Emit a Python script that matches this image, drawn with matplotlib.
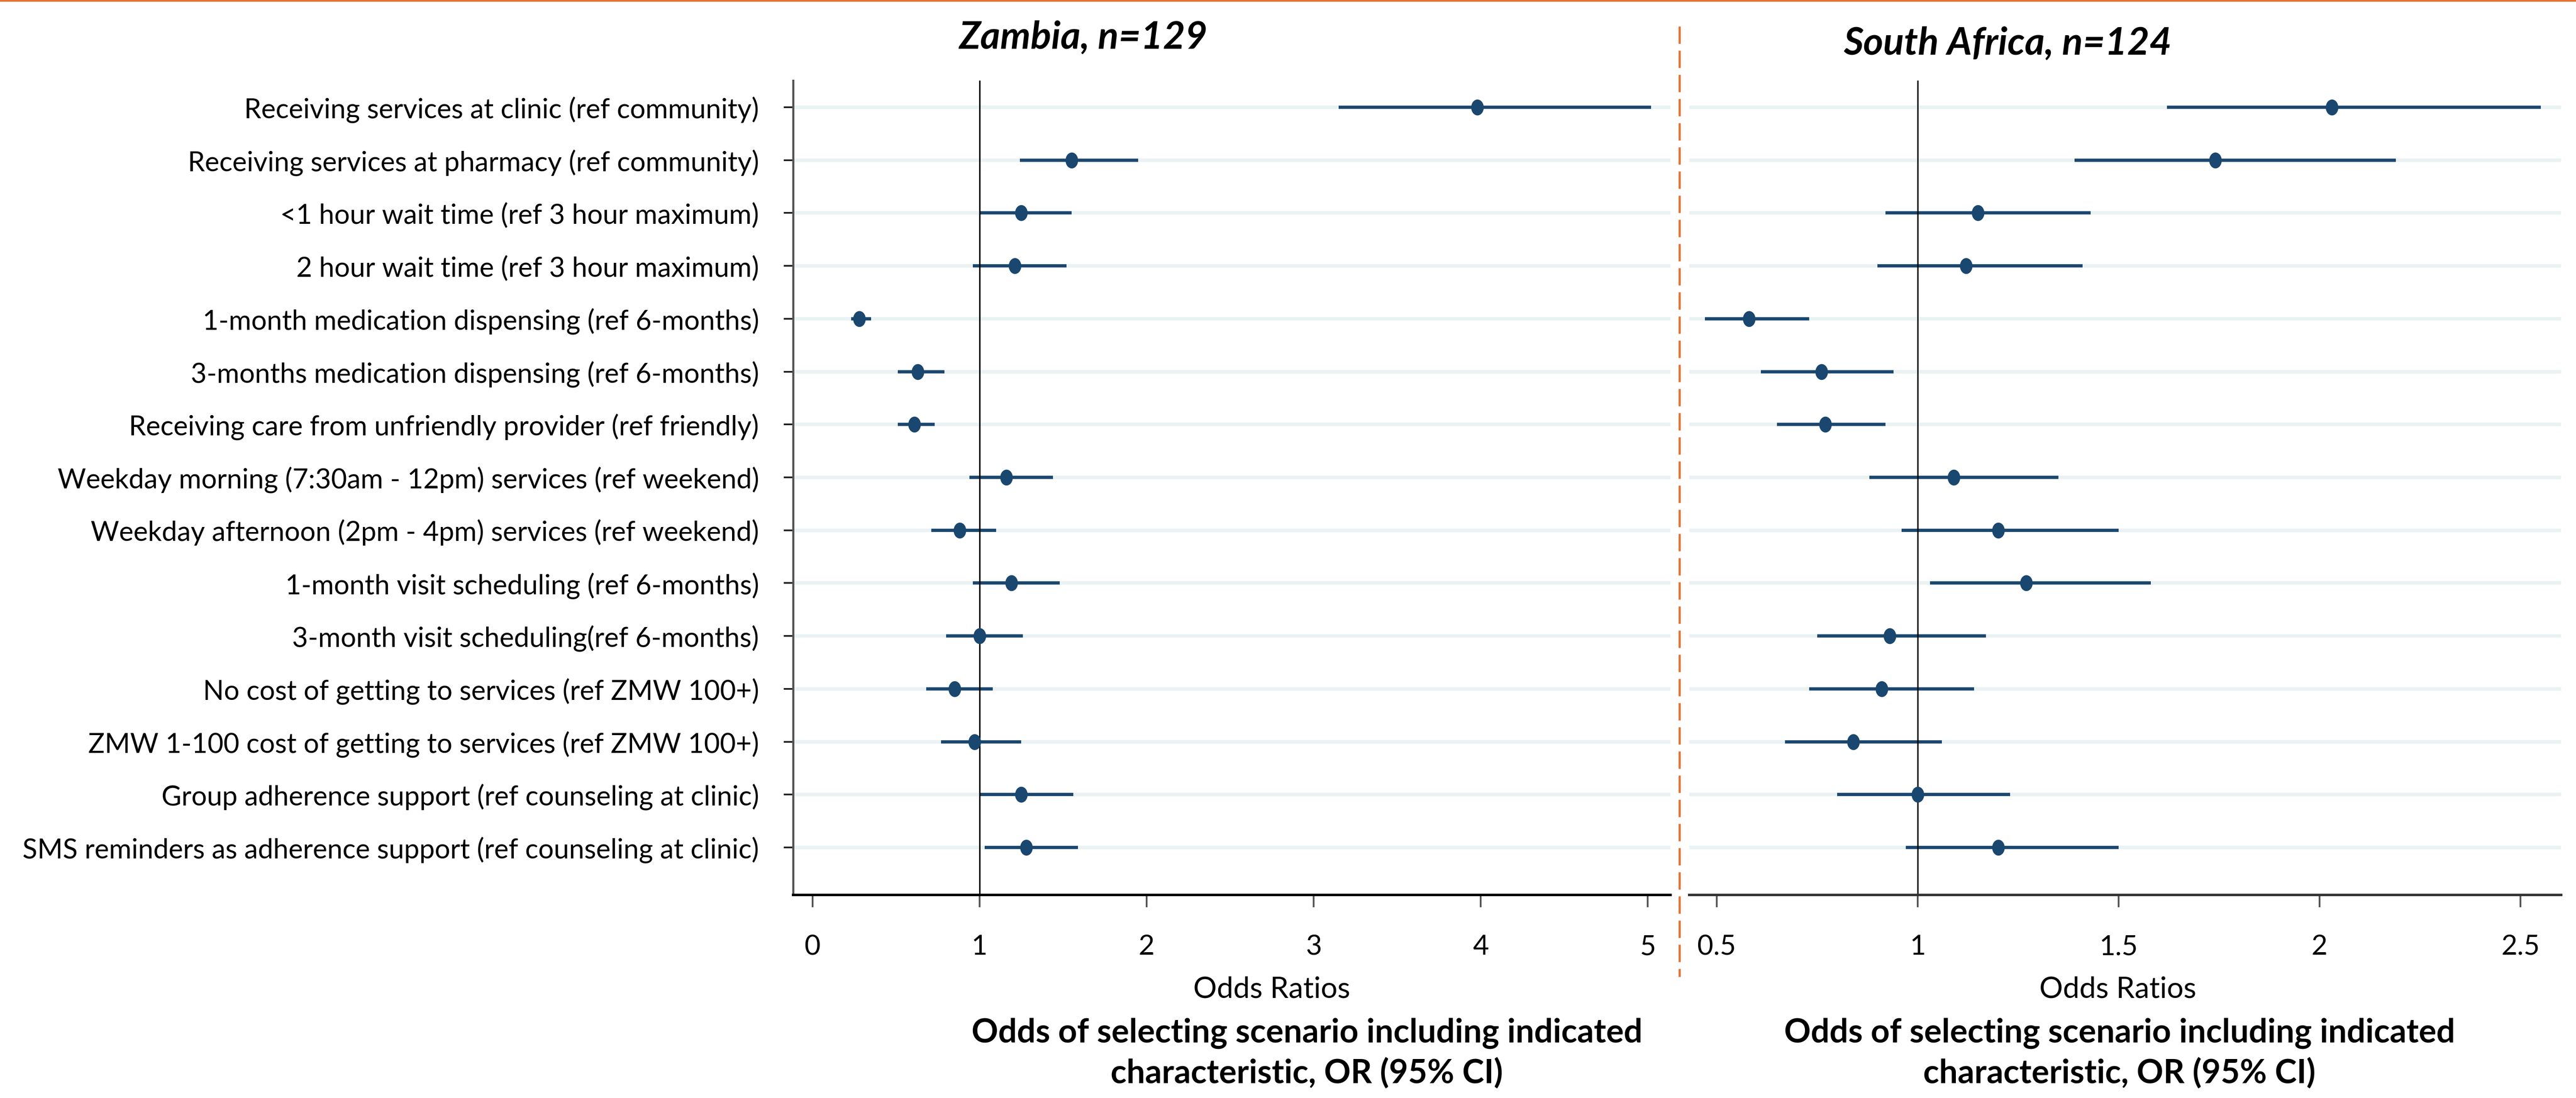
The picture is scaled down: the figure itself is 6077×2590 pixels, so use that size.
import matplotlib
matplotlib.use('Agg')
import matplotlib.pyplot as plt
import numpy as np
from matplotlib.path import Path
from matplotlib.transforms import Affine2D
from matplotlib.lines import Line2D

plt.rcParams['font.family'] = ['Lato', 'DejaVu Sans']

labels = [
    'Receiving services at clinic (ref community)',
    'Receiving services at pharmacy (ref community)',
    '<1 hour wait time (ref 3 hour maximum)',
    '2 hour wait time (ref 3 hour maximum)',
    '1-month medication dispensing (ref 6-months)',
    '3-months medication dispensing (ref 6-months)',
    'Receiving care from unfriendly provider (ref friendly)',
    'Weekday morning (7:30am - 12pm) services (ref weekend)',
    'Weekday afternoon (2pm - 4pm) services (ref weekend)',
    '1-month visit scheduling (ref 6-months)',
    '3-month visit scheduling(ref 6-months)',
    'No cost of getting to services (ref ZMW 100+)',
    'ZMW 1-100 cost of getting to services (ref ZMW 100+)',
    'Group adherence support (ref counseling at clinic)',
    'SMS reminders as adherence support (ref counseling at clinic)',
]

# Zambia, n=129
zm_or = [3.98, 1.55, 1.25, 1.21, 0.28, 0.63, 0.61, 1.16, 0.88, 1.19, 1.00, 0.85, 0.97, 1.25, 1.28]
zm_lo = [3.15, 1.24, 1.00, 0.96, 0.23, 0.51, 0.51, 0.94, 0.71, 0.96, 0.80, 0.68, 0.77, 1.00, 1.03]
zm_hi = [5.02, 1.95, 1.55, 1.52, 0.35, 0.79, 0.73, 1.44, 1.10, 1.48, 1.26, 1.08, 1.25, 1.56, 1.59]

# South Africa, n=124
sa_or = [2.03, 1.74, 1.15, 1.12, 0.58, 0.76, 0.77, 1.09, 1.20, 1.27, 0.93, 0.91, 0.84, 1.00, 1.20]
sa_lo = [1.62, 1.39, 0.92, 0.90, 0.47, 0.61, 0.65, 0.88, 0.96, 1.03, 0.75, 0.73, 0.67, 0.80, 0.97]
sa_hi = [2.55, 2.19, 1.43, 1.41, 0.73, 0.94, 0.92, 1.35, 1.50, 1.58, 1.17, 1.14, 1.06, 1.23, 1.50]

zm_ticks = [0, 1, 2, 3, 4, 5]
zm_ticklabels = ['0', '1', '2', '3', '4', '5']
sa_ticks = [0.5, 1, 1.5, 2, 2.5]
sa_ticklabels = ['0.5', '1', '1.5', '2', '2.5']

navy = '#1A476F'
grid_col = '#EAF2F3'
orange = '#E9712F'

W, H = 6077, 2590
fig = plt.figure(figsize=(W / 100, H / 100), dpi=100)


def box(x0, y0, x1, y1):
    return [x0 / W, 1 - y1 / H, (x1 - x0) / W, (y1 - y0) / H]


ax1 = fig.add_axes(box(1871, 190, 3941, 2111))
ax2 = fig.add_axes(box(3985, 190, 6042, 2111))

# Stata-like dot, a bit taller than wide
dot = Path.unit_circle().transformed(Affine2D().scale(0.78, 1.0))
rows = np.arange(1, len(labels) + 1)


def forest(ax, est, lo, hi, xlim, ticks, ticklabels, spine_col):
    ax.set_xlim(xlim)
    ax.set_ylim(15.898, 0.495)
    ax.set_yticks(rows)
    ax.grid(axis='y', color=grid_col, lw=6)
    ax.set_axisbelow(True)
    ax.hlines(rows, lo, hi, color=navy, lw=5.5, zorder=2)
    ax.axvline(1, color='black', lw=2.4, zorder=2.5)
    ax.plot(est, rows, ls='none', marker=dot, ms=26, color=navy, zorder=3)
    ax.set_xticks(ticks)
    ax.set_xticklabels(ticklabels)
    ax.tick_params(axis='x', direction='out', length=21, width=3, pad=46,
                   labelsize=47, color='#555555')
    ax.spines['top'].set_visible(False)
    ax.spines['right'].set_visible(False)
    ax.spines['bottom'].set_linewidth(4.2)
    ax.spines['bottom'].set_color(spine_col)


forest(ax1, zm_or, zm_lo, zm_hi, (-0.1166, 5.137), zm_ticks, zm_ticklabels, 'black')
forest(ax2, sa_or, sa_lo, sa_hi, (0.4314, 2.601), sa_ticks, sa_ticklabels, '#333333')

ax1.set_yticklabels(labels)
ax1.tick_params(axis='y', direction='out', length=16, width=2.9, pad=42,
                labelsize=46.5, color='#222222')
ax1.spines['left'].set_color('#555555')
ax1.spines['left'].set_linewidth(3.6)

ax2.spines['left'].set_visible(False)
ax2.tick_params(axis='y', left=False, labelleft=False)

# panel titles
fig.text(2556 / W, 1 - 114 / H, 'Zambia, n=129', ha='center', va='baseline',
         fontsize=65, fontweight='bold', fontstyle='italic')
fig.text(4736 / W, 1 - 128 / H, 'South Africa, n=124', ha='center', va='baseline',
         fontsize=65, fontweight='bold', fontstyle='italic')

# axis titles
for cx in (3000, 4996):
    fig.text(cx / W, 1 - 2353 / H, 'Odds Ratios', ha='center', va='baseline', fontsize=50)
for cx in (3083, 5000):
    fig.text(cx / W, 1 - 2459 / H, 'Odds of selecting scenario including indicated',
             ha='center', va='baseline', fontsize=56, fontweight='bold')
    fig.text(cx / W, 1 - 2556 / H, 'characteristic, OR (95% CI)',
             ha='center', va='baseline', fontsize=56, fontweight='bold')

# orange rule at top and dashed divider between panels
fig.add_artist(Line2D([0, 1], [1 - 2 / H, 1 - 2 / H], transform=fig.transFigure,
                      color=orange, lw=3))
fig.add_artist(Line2D([3962 / W, 3962 / W], [1 - 62 / H, 1 - 2304 / H],
                      transform=fig.transFigure, color=orange, lw=3.6, dashes=(8.2, 3.2)))

fig.savefig('out.png', dpi=100)
